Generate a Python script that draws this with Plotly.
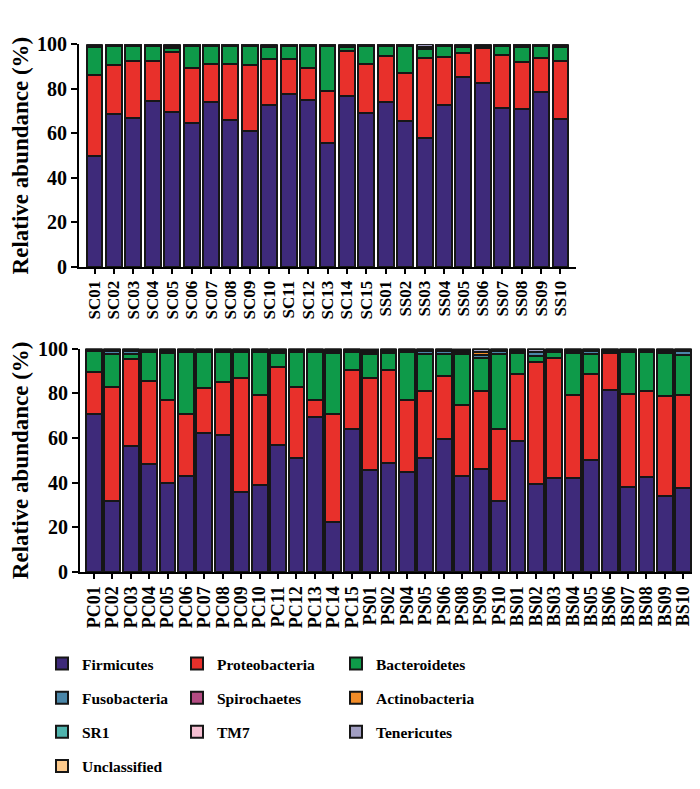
import plotly.graph_objects as go

# ---------------- data ----------------
top_labels = ["SC01","SC02","SC03","SC04","SC05","SC06","SC07","SC08","SC09","SC10",
              "SC11","SC12","SC13","SC14","SC15","SS01","SS02","SS03","SS04","SS05",
              "SS06","SS07","SS08","SS09","SS10"]
firm_top = [50.0,68.9,66.7,74.4,69.4,64.8,74.1,65.8,61.0,72.6,77.6,75.0,55.7,76.6,69.0,
            74.2,65.4,57.8,72.8,85.4,82.8,71.3,70.9,78.6,66.5]
prot_top = [36.3,21.8,25.7,18.0,27.0,24.7,16.9,25.2,29.7,20.7,15.7,14.5,23.3,20.2,22.0,
            20.4,21.5,36.1,21.7,10.7,15.5,24.0,21.2,15.3,26.2]
bact_top = [12.4,8.7,7.0,7.0,1.9,9.9,8.4,8.4,8.7,5.5,6.1,9.9,20.1,2.0,8.4,
            4.8,12.5,4.1,4.9,2.7,0.0,4.1,6.9,5.5,6.1]
fuso_top = [0.7,0.3,0.3,0.3,0.9,0.3,0.3,0.3,0.3,0.6,0.3,0.3,0.5,0.6,0.3,
            0.3,0.3,1.0,0.3,0.6,0.9,0.3,0.5,0.3,0.6]
spir_top = [0]*25
acti_top = [0]*25
sr1_top = [0]*25
tm7_top = [0]*25
tene_top = [0.6,0.3,0.3,0.3,0.8,0.3,0.3,0.3,0.3,0.6,0.3,0.3,0.4,0.6,0.3,
            0.3,0.3,1.0,0.3,0.6,0.8,0.3,0.5,0.3,0.6]
uncl_top = [0]*25

bot_labels = ["PC01","PC02","PC03","PC04","PC05","PC06","PC07","PC08","PC09","PC10",
              "PC11","PC12","PC13","PC14","PC15","PS01","PS02","PS04","PS05","PS06",
              "PS08","PS09","PS10","BS01","BS02","BS03","BS04","BS05","BS06","BS07",
              "BS08","BS09","BS10"]
firm_bot = [70.7,31.6,56.5,48.4,40.0,43.2,62.3,61.2,35.7,39.1,56.8,51.2,69.3,22.2,63.9,
            45.7,49.0,44.6,51.0,59.4,43.2,46.1,31.9,58.8,39.6,42.0,42.0,50.0,81.6,38.0,
            42.5,34.2,37.7]
prot_bot = [18.9,51.3,38.9,37.1,37.1,27.5,20.0,24.0,51.3,40.0,34.8,31.4,7.8,48.5,26.5,
            41.0,41.6,32.5,30.2,28.3,31.4,35.1,32.3,29.6,54.3,53.7,37.4,38.8,16.4,41.7,
            38.4,44.6,41.4]
bact_bot = [9.2,14.5,2.1,12.8,20.9,27.6,16.3,13.4,11.6,19.5,6.4,15.7,21.5,27.1,7.9,
            10.7,7.2,21.2,16.3,10.0,22.9,14.5,33.5,9.6,2.9,2.9,18.6,8.9,0.0,18.6,
            17.4,19.2,18.0]
fuso_bot = [0.7,1.5,1.4,0.6,1.1,0.9,0.8,0.8,0.8,0.8,1.1,0.9,0.8,1.2,0.9,
            1.1,1.2,0.9,1.4,1.3,0.9,1.5,1.0,1.1,1.8,0.8,1.1,1.3,1.1,0.9,
            0.9,1.1,1.6]
spir_bot = [0,0,0,0,0,0,0,0,0,0,0,0,0,0,0,
            0,0,0,0,0,0,0,0.5,0,0,0,0,0,0,0,
            0,0,0]
acti_bot = [0,0,0,0,0,0,0,0,0,0,0,0,0,0,0,
            0,0,0,0,0,0,1.3,0,0,0,0,0,0,0,0,
            0,0,0]
sr1_bot = [0]*33
tm7_bot = [0]*33
tene_bot = [0.5,1.1,1.1,0.5,0.9,0.8,0.6,0.6,0.6,0.6,0.9,0.8,0.6,1.0,0.8,
            0.9,1.0,0.8,1.1,1.0,0.7,1.5,0.8,0.9,1.4,0.6,0.9,1.0,0.9,0.8,
            0.8,0.9,1.3]
uncl_bot = [0,0,0,0.6,0,0,0,0,0,0,0,0,0,0,0,
            0.6,0,0,0,0,0.9,0,0,0,0,0,0,0,0,0,
            0,0,0]

phyla = ["Firmicutes","Proteobacteria","Bacteroidetes","Fusobacteria","Spirochaetes",
         "Actinobacteria","SR1","TM7","Tenericutes","Unclassified"]
colors = ["#3e2a7a","#e8302b","#0e9a49","#4a86a8","#b34b82",
          "#f28c28","#4fb3ad","#f5bfd2","#a19ec2","#fdca8c"]
top_series = [firm_top,prot_top,bact_top,fuso_top,spir_top,acti_top,sr1_top,tm7_top,tene_top,uncl_top]
bot_series = [firm_bot,prot_bot,bact_bot,fuso_bot,spir_bot,acti_bot,sr1_bot,tm7_bot,tene_bot,uncl_bot]
legend_cols = ["legend","legend2","legend3","legend","legend2","legend3",
               "legend","legend2","legend3","legend"]

FONT = "Liberation Serif"
W, H = 700, 789
line = dict(color="#161616", width=2)

fig = go.Figure()
for name, col, vals in zip(phyla, colors, top_series):
    fig.add_trace(go.Bar(x=top_labels, y=vals, name=name, marker=dict(color=col, line=line),
                         width=0.82, xaxis="x", yaxis="y", showlegend=False,
                         legendgroup=name))
for name, col, vals, lg in zip(phyla, colors, bot_series, legend_cols):
    fig.add_trace(go.Bar(x=bot_labels, y=vals, name=name, marker=dict(color=col, line=line),
                         width=0.86, xaxis="x2", yaxis="y2", showlegend=True,
                         legendgroup=name, legend=lg))

axfont = dict(family=FONT, size=20, color="black", weight="bold")
def yax(domain, anchor):
    return dict(domain=domain, anchor=anchor, range=[0, 100], dtick=20, showgrid=False,
                zeroline=False, showline=True, linewidth=2, linecolor="black",
                ticks="outside", ticklen=6, tickwidth=2, tickcolor="black",
                tickfont=axfont,
                title=dict(text="Relative abundance (%)", standoff=4,
                           font=dict(family=FONT, size=23, color="black", weight="bold")))
def xax(domain, anchor, rng, fs, labels):
    return dict(domain=domain, anchor=anchor, type="category", range=rng, showgrid=False,
                showline=True, linewidth=2, linecolor="black", ticks="outside",
                ticklen=5, tickwidth=2, tickcolor="black", tickangle=-90,
                tickmode="array", tickvals=labels, ticktext=labels,
                tickfont=dict(family=FONT, size=fs, color="black", weight="bold"))

leg = lambda x: dict(x=x, y=1 - 646 / H, xanchor="left", yanchor="top",
                     orientation="v", traceorder="grouped", tracegroupgap=11,
                     bgcolor="rgba(0,0,0,0)", borderwidth=0,
                     font=dict(family=FONT, size=15.5, color="black", weight="bold"))

fig.update_layout(
    width=W, height=H, barmode="stack", plot_bgcolor="white", paper_bgcolor="white",
    margin=dict(l=0, r=0, t=0, b=0),
    xaxis=xax([71 / W, 568 / W], "y", [-0.8, 24.8], 17, top_labels),
    yaxis=yax([1 - 255 / H, 1 - 26 / H], "x"),
    xaxis2=xax([72 / W, 690 / W], "y2", [-0.75, 32.8], 18, bot_labels),
    yaxis2=yax([1 - 569 / H, 1 - 339 / H], "x2"),
    legend=leg(34 / W), legend2=leg(169 / W), legend3=leg(328 / W),
)

fig.write_html("out.html")
